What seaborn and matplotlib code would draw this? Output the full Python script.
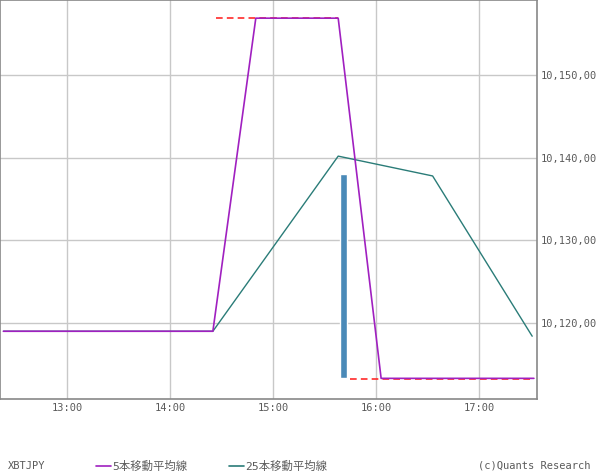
import matplotlib
matplotlib.use("Agg")
import matplotlib.pyplot as plt
from matplotlib.lines import Line2D
import seaborn as sns
import pandas as pd

# moving averages (time, price)
ma5_times = ["12:23", "14:25", "14:50", "15:38", "16:03", "17:32"]
ma5_vals = [10119.0, 10119.0, 10156.9, 10156.9, 10113.3, 10113.3]
ma25_times = ["12:23", "14:25", "15:38", "16:33", "17:31"]
ma25_vals = [10119.0, 10119.0, 10140.2, 10137.8, 10118.4]

# the single candle body
bar_time = "15:41"
bar_low = 10113.3
bar_high = 10138.0

# dashed red levels (start, end, price)
level_starts = ["14:27", "15:45"]
level_ends = ["15:38", "17:32"]
level_vals = [10156.9, 10113.2]

x_ticks = ["13:00", "14:00", "15:00", "16:00", "17:00"]
y_ticks = [10120, 10130, 10140, 10150]


def to_min(t):
    h, m = t.split(":")
    return int(h) * 60 + int(m)


ma5 = pd.DataFrame({"t": [to_min(t) for t in ma5_times], "v": ma5_vals})
ma25 = pd.DataFrame({"t": [to_min(t) for t in ma25_times], "v": ma25_vals})

sns.set_style("white")
plt.rcParams["font.family"] = ["DejaVu Sans Mono", "Noto Sans CJK JP"]

txt = "#5a5a5a"
fs = 7.5
fig = plt.figure(figsize=(6, 4.75), dpi=100)
ax = fig.add_axes([0.0, 1 - 399 / 475, 537 / 600, 399 / 475])

ax.bar(to_min(bar_time), bar_high - bar_low, bottom=bar_low, width=4,
       color="#4a8ab8", zorder=2)

for s, e, v in zip(level_starts, level_ends, level_vals):
    ax.plot([to_min(s), to_min(e)], [v, v], color="#ff2a2a", lw=1.2,
            linestyle=(0, (4, 2.5)), zorder=3)

sns.lineplot(data=ma25, x="t", y="v", ax=ax, color="#2a7c78", lw=1,
             zorder=4, sort=False)
sns.lineplot(data=ma5, x="t", y="v", ax=ax, color="#a020c0", lw=1.2,
             zorder=5, sort=False)

ax.set_xlim(741, 1053.8)
ax.set_ylim(10110.8, 10159.1)
ax.set_xticks([to_min(t) for t in x_ticks])
ax.set_xticklabels(x_ticks)
ax.set_yticks(y_ticks)
ax.set_yticklabels([f"{v:,},00" for v in y_ticks])
ax.yaxis.tick_right()
ax.tick_params(axis="both", length=0, labelsize=fs, colors=txt, pad=3)
ax.set_xlabel("")
ax.set_ylabel("")
ax.grid(True, color="#c8c8c8", lw=1)
ax.set_axisbelow(True)
for sp in ax.spines.values():
    sp.set_color("#888888")
    sp.set_linewidth(1.2)

# legend row at the bottom
ly = 1 - 466 / 475
fig.text(8 / 600, ly, "XBTJPY", fontsize=fs, color=txt, va="center")
fig.add_artist(Line2D([96 / 600, 111 / 600], [ly, ly], color="#a020c0", lw=1.2))
fig.text(112 / 600, ly, "5本移動平均線", fontsize=8.2, color=txt, va="center")
fig.add_artist(Line2D([229 / 600, 244 / 600], [ly, ly], color="#2a7c78", lw=1.2))
fig.text(245 / 600, ly, "25本移動平均線", fontsize=8.2, color=txt, va="center")
fig.text(591 / 600, ly, "(c)Quants Research", fontsize=fs, color=txt,
         va="center", ha="right")

fig.savefig("out.png", dpi=100)
